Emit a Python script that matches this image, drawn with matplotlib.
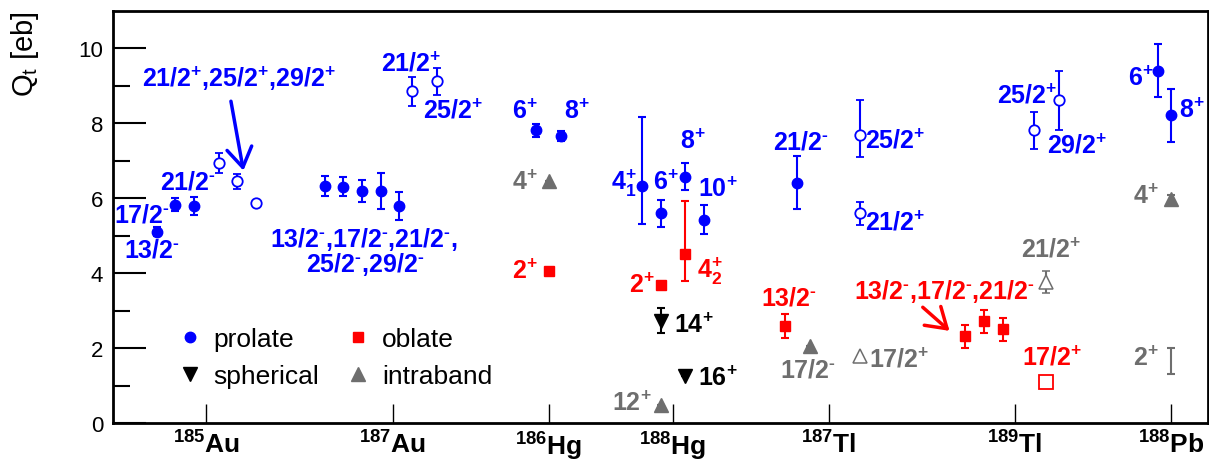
import matplotlib
matplotlib.use("Agg")
import matplotlib.pyplot as plt
from matplotlib.lines import Line2D

plt.rcParams['font.family'] = ['Liberation Sans', 'DejaVu Sans']
plt.rcParams['mathtext.fontset'] = 'custom'
plt.rcParams['mathtext.rm'] = 'Liberation Sans:bold'
plt.rcParams['mathtext.it'] = 'Liberation Sans:bold'
plt.rcParams['mathtext.bf'] = 'Liberation Sans:bold'
plt.rcParams['mathtext.sf'] = 'Liberation Sans:bold'

BLUE = '#0000ff'
RED = '#ff0000'
GRAY = '#6e6e6e'
P = r'$^{+}$'
M = r'$^{‐}$'

# nuclei along the x axis
nuclei = [r'$^{185}$Au', r'$^{187}$Au', r'$^{186}$Hg', r'$^{188}$Hg',
          r'$^{187}$Tl', r'$^{189}$Tl', r'$^{188}$Pb']
nuc_pos = [3, 9, 14, 18, 23, 29, 34]

# prolate, filled circles
pro_x = [1.4, 2.0, 2.6, 6.8, 7.4, 8.0, 8.6, 9.2, 13.6, 14.4, 17.0, 17.6, 18.4, 19.0, 22.0, 33.6, 34.0]
pro_y = [5.11, 5.83, 5.79, 6.32, 6.31, 6.20, 6.19, 5.79, 7.81, 7.66, 6.33, 5.60, 6.57, 5.43, 6.41, 9.41, 8.21]
pro_lo = [0.12, 0.18, 0.25, 0.27, 0.25, 0.30, 0.49, 0.37, 0.17, 0.13, 1.02, 0.36, 0.36, 0.38, 0.71, 0.70, 0.70]
pro_hi = [0.12, 0.18, 0.25, 0.27, 0.25, 0.30, 0.49, 0.37, 0.17, 0.13, 1.84, 0.36, 0.36, 0.38, 0.71, 0.70, 0.70]

# prolate, open circles
pro_o_x = [3.4, 4.0, 4.6, 9.6, 10.4, 24.0, 24.0, 29.6, 30.4]
pro_o_y = [6.94, 6.45, 5.88, 8.86, 9.13, 7.70, 5.60, 7.81, 8.61]
pro_o_lo = [0.27, 0.20, 0.0, 0.39, 0.36, 0.60, 0.31, 0.50, 0.80]
pro_o_hi = [0.27, 0.20, 0.0, 0.39, 0.36, 0.91, 0.31, 0.50, 0.80]

# oblate, filled squares
obl_x = [14.0, 17.6, 18.4, 21.6, 27.4, 28.0, 28.6]
obl_y = [4.07, 3.68, 4.50, 2.59, 2.31, 2.71, 2.50]
obl_lo = [0.0, 0.0, 0.70, 0.31, 0.31, 0.31, 0.30]
obl_hi = [0.0, 0.0, 1.42, 0.31, 0.31, 0.31, 0.30]

# oblate, open square
obl_o_x = [30.0]
obl_o_y = [1.10]

# spherical
sph_x = [17.6, 18.4]
sph_y = [2.73, 1.26]
sph_err = [0.33, 0.0]

# intraband, filled and open triangles
intra_x = [14.0, 17.6, 22.4, 34.0]
intra_y = [6.45, 0.48, 2.06, 5.98]
intra_err = [0.0, 0.0, 0.0, 0.10]
intra_o_x = [24.0, 30.0]
intra_o_y = [1.79, 3.77]
intra_o_err = [0.0, 0.30]
# intraband, error bar only
intra_b_x = [34.0]
intra_b_y = [1.65]
intra_b_err = [0.35]

# state labels: x, y, text, colour
labels = [
    (0.92, 9.00, '21/2' + P + ',25/2' + P + ',29/2' + P, BLUE),
    (1.51, 6.27, '21/2' + M, BLUE),
    (0.03, 5.37, '17/2' + M, BLUE),
    (0.35, 4.44, '13/2' + M, BLUE),
    (5.03, 4.73, '13/2' + M + ',17/2' + M + ',21/2' + M + ',', BLUE),
    (6.19, 4.06, '25/2' + M + ',29/2' + M, BLUE),
    (8.61, 9.41, '21/2' + P, BLUE),
    (9.98, 8.15, '25/2' + P, BLUE),
    (12.84, 8.15, '6' + P, BLUE),
    (14.50, 8.15, '8' + P, BLUE),
    (12.84, 6.25, '4' + P, GRAY),
    (12.84, 3.87, '2' + P, RED),
    (16.01, 6.25, r'4$^{+}_{1}$', BLUE),
    (17.37, 6.25, '6' + P, BLUE),
    (18.21, 7.35, '8' + P, BLUE),
    (18.80, 6.05, '10' + P, BLUE),
    (18.77, 3.90, r'4$^{+}_{2}$', RED),
    (16.59, 3.51, '2' + P, RED),
    (18.02, 2.42, '14' + P, 'black'),
    (18.82, 1.02, '16' + P, 'black'),
    (16.03, 0.35, '12' + P, GRAY),
    (21.23, 7.32, '21/2' + M, BLUE),
    (20.84, 3.17, '13/2' + M, RED),
    (21.43, 1.23, '17/2' + M, GRAY),
    (24.18, 7.35, '25/2' + P, BLUE),
    (24.18, 5.16, '21/2' + P, BLUE),
    (24.29, 1.52, '17/2' + P, GRAY),
    (23.82, 3.35, '13/2' + M + ',17/2' + M + ',21/2' + M, RED),
    (29.19, 4.45, '21/2' + P, GRAY),
    (29.22, 1.55, '17/2' + P, RED),
    (28.41, 8.55, '25/2' + P, BLUE),
    (30.02, 7.23, '29/2' + P, BLUE),
    (32.63, 9.03, '6' + P, BLUE),
    (34.28, 8.17, '8' + P, BLUE),
    (32.80, 5.87, '4' + P, GRAY),
    (32.80, 1.55, '2' + P, GRAY),
]

# arrows: start -> end
arrows = [((3.79, 8.59), (4.19, 6.74), BLUE),
          ((26.03, 3.09), (26.89, 2.46), RED)]

fig = plt.figure(figsize=(12.09, 4.64), dpi=100)
ax = fig.add_axes([0.0935, 0.0862, 0.9057, 0.888])

eb = dict(linestyle='none', elinewidth=1.5, capsize=3, capthick=1.5)
ax.errorbar(pro_x, pro_y, yerr=[pro_lo, pro_hi], fmt='o', ms=7.5, color=BLUE, **eb)
ax.errorbar(pro_o_x, pro_o_y, yerr=[pro_o_lo, pro_o_hi], fmt='o', ms=7.5, color=BLUE,
            mfc='white', mew=1.3, **eb)
ax.errorbar(obl_x, obl_y, yerr=[obl_lo, obl_hi], fmt='s', ms=7.5, color=RED, **eb)
ax.errorbar(obl_o_x, obl_o_y, fmt='s', ms=10, color=RED, mfc='white', mew=1.3, **eb)
ax.errorbar(sph_x, sph_y, yerr=sph_err, fmt='v', ms=9.5, color='black', **eb)
ax.errorbar(intra_x, intra_y, yerr=intra_err, fmt='^', ms=9.5, color=GRAY, **eb)
ax.errorbar(intra_o_x, intra_o_y, yerr=intra_o_err, fmt='^', ms=9.5, color=GRAY,
            mfc='white', mew=1.1, **eb)
ax.errorbar(intra_b_x, intra_b_y, yerr=intra_b_err, fmt='none', ecolor=GRAY,
            elinewidth=1.5, capsize=3, capthick=1.5)

for x, y, t, c in labels:
    ax.text(x, y, t, color=c, fontsize=18, fontweight='bold', ha='left', va='baseline')

for (x0, y0), (x1, y1), c in arrows:
    ax.annotate('', xy=(x1, y1), xytext=(x0, y0),
                arrowprops=dict(arrowstyle='->,head_length=0.7,head_width=0.45',
                                lw=2.5, color=c, shrinkA=0, shrinkB=0,
                                mutation_scale=20))

ax.set_xlim(0, 35.2)
ax.set_ylim(0, 11)
ax.set_yticks([0, 2, 4, 6, 8, 10])
ax.set_yticks([1, 3, 5, 7, 9], minor=True)
ax.set_xticks(nuc_pos)
ax.set_xticklabels(nuclei, fontsize=19, fontweight='bold')
ax.tick_params(axis='y', which='major', direction='in', length=24, width=1.5,
               labelsize=16, pad=7)
ax.tick_params(axis='y', which='minor', direction='in', length=12, width=1.5)
ax.tick_params(axis='x', which='major', direction='in', length=14, width=1.0, pad=5)
for s in ax.spines.values():
    s.set_linewidth(2)

fig.text(0.021, 0.976, r'Q$_{\mathregular{t}}$ [eb]', rotation=90, va='top', ha='center',
         fontsize=21)

handles = [Line2D([], [], ls='none', marker='o', ms=7.5, color=BLUE),
           Line2D([], [], ls='none', marker='v', ms=9.5, color='black'),
           Line2D([], [], ls='none', marker='s', ms=7.5, color=RED),
           Line2D([], [], ls='none', marker='^', ms=9.5, color=GRAY)]
ax.legend(handles, ['prolate', 'spherical', 'oblate', 'intraband'], ncol=2,
          loc='upper left', bbox_to_anchor=(0.058, 0.233), frameon=False,
          fontsize=19, handlelength=1.0, handletextpad=0.4, columnspacing=0.97,
          labelspacing=0.5, borderpad=0, borderaxespad=0)

fig.savefig('out.png', dpi=100)
